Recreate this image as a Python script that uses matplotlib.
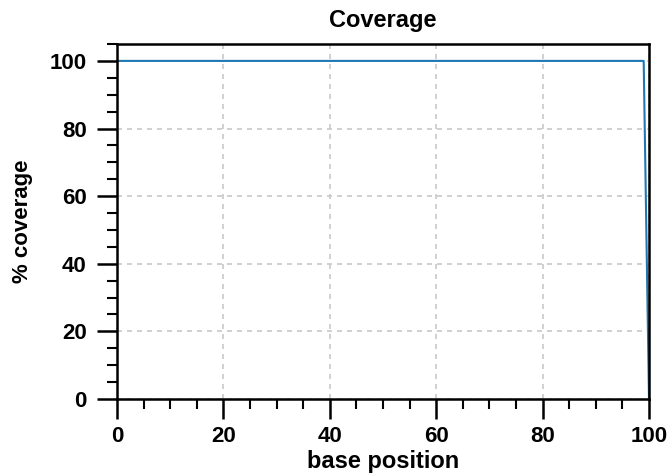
import matplotlib
matplotlib.use("Agg")
import matplotlib.pyplot as plt
from matplotlib.ticker import MultipleLocator

# per-base coverage (%) along the read
positions = list(range(0, 101))
coverage = [100.0] * 100 + [0.0]

plt.rcParams["font.family"] = ["Liberation Sans", "DejaVu Sans"]
plt.rcParams["font.weight"] = "bold"

fig = plt.figure(figsize=(6.71, 4.73), dpi=100)
ax = fig.add_axes([117 / 671, 74 / 473, 532 / 671, 355 / 473])

ax.plot(positions, coverage, color="#1f77b4", linewidth=1.5)

ax.set_xlim(0, 100)
ax.set_ylim(0, 105)
ax.xaxis.set_major_locator(MultipleLocator(20))
ax.xaxis.set_minor_locator(MultipleLocator(5))
ax.yaxis.set_major_locator(MultipleLocator(20))
ax.yaxis.set_minor_locator(MultipleLocator(5))

ax.grid(True, which="major", linestyle=(0, (3, 3)), color="#c8c8c8", linewidth=1.2)
ax.set_axisbelow(True)

for sp in ax.spines.values():
    sp.set_linewidth(1.8)
ax.tick_params(which="major", direction="out", length=14.4, width=1.8, labelsize=16)
ax.tick_params(axis="x", which="major", pad=5)
ax.tick_params(axis="y", which="major", pad=7.5)
ax.tick_params(which="minor", direction="out", length=7.5, width=1.5)
for lab in ax.get_xticklabels() + ax.get_yticklabels():
    lab.set_fontweight("bold")

ax.set_title("Coverage", fontsize=17, fontweight="bold", pad=12)
ax.set_xlabel("base position", fontsize=17, fontweight="bold", labelpad=2)
ax.set_ylabel("% coverage", fontsize=16, fontweight="bold", labelpad=12)

fig.savefig("out.png", dpi=100)
